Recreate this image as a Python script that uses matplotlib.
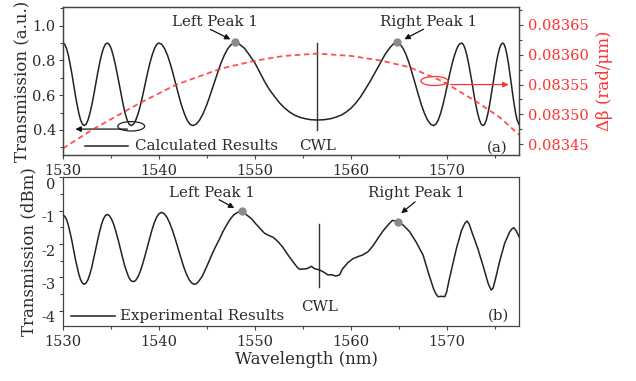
import matplotlib

matplotlib.use("Agg")
import matplotlib.pyplot as plt  # noqa: E402
from matplotlib.patches import Ellipse  # noqa: E402
from matplotlib.ticker import MultipleLocator, FormatStrFormatter  # noqa: E402
from matplotlib.transforms import ScaledTranslation  # noqa: E402

# --- (a) calculated transmission ---
calc_wl = [1530.0, 1530.18, 1530.37, 1530.55, 1530.73, 1530.92, 1531.1, 1531.28, 1531.47, 1531.65, 1531.83, 1532.02, 1532.2,
           1532.4, 1532.6, 1532.8, 1533.0, 1533.2, 1533.4, 1533.6, 1533.8, 1534.0, 1534.2, 1534.4, 1534.6,
           1534.81, 1535.02, 1535.22, 1535.43, 1535.64, 1535.85, 1536.06, 1536.27, 1536.47, 1536.68, 1536.89, 1537.1,
           1537.34, 1537.58, 1537.83, 1538.07, 1538.31, 1538.55, 1538.79, 1539.03, 1539.28, 1539.52, 1539.76, 1540.0,
           1540.29, 1540.58, 1540.88, 1541.17, 1541.46, 1541.75, 1542.04, 1542.33, 1542.63, 1542.92, 1543.21, 1543.5,
           1543.87, 1544.23, 1544.6, 1544.97, 1545.33, 1545.7, 1546.07, 1546.43, 1546.8, 1547.17, 1547.53, 1547.9,
           1548.3, 1548.9, 1549.4, 1550.0, 1550.5, 1551.0, 1551.5, 1552.05, 1552.6, 1553.1, 1553.6, 1554.1,
           1554.6, 1555.2, 1555.8, 1556.5,
           1557.2, 1557.9, 1558.45, 1559.0, 1559.5, 1560.0, 1560.5, 1561.0, 1561.5, 1562.05, 1562.6, 1563.1,
           1563.55, 1564.0, 1564.4, 1564.8,
           1565.12, 1565.43, 1565.75, 1566.07, 1566.38, 1566.7, 1567.02, 1567.33, 1567.65, 1567.97, 1568.28, 1568.6,
           1568.84, 1569.08, 1569.33, 1569.57, 1569.81, 1570.05, 1570.29, 1570.53, 1570.78, 1571.02, 1571.26, 1571.5,
           1571.69, 1571.88, 1572.06, 1572.25, 1572.44, 1572.63, 1572.81, 1573.0, 1573.19, 1573.38, 1573.56, 1573.75,
           1573.92, 1574.09, 1574.26, 1574.43, 1574.6, 1574.78, 1574.95, 1575.12, 1575.29, 1575.46, 1575.63, 1575.8,
           1575.95, 1576.1, 1576.25, 1576.4, 1576.55, 1576.7, 1576.85, 1577.0, 1577.15, 1577.3, 1577.5]
calc_T = [0.900, 0.892, 0.868, 0.830, 0.781, 0.724, 0.663, 0.601, 0.544, 0.495, 0.457, 0.433, 0.425,
          0.433, 0.457, 0.495, 0.544, 0.601, 0.663, 0.724, 0.781, 0.830, 0.868, 0.892, 0.900,
          0.892, 0.868, 0.830, 0.781, 0.724, 0.663, 0.601, 0.544, 0.495, 0.457, 0.433, 0.425,
          0.433, 0.457, 0.495, 0.544, 0.601, 0.663, 0.724, 0.781, 0.830, 0.868, 0.892, 0.900,
          0.892, 0.868, 0.830, 0.781, 0.724, 0.663, 0.601, 0.544, 0.495, 0.457, 0.433, 0.425,
          0.433, 0.457, 0.495, 0.544, 0.601, 0.663, 0.724, 0.781, 0.830, 0.868, 0.892, 0.902,
          0.896, 0.870, 0.832, 0.784, 0.731, 0.678, 0.632, 0.591, 0.553, 0.525, 0.503, 0.486,
          0.474, 0.465, 0.459, 0.457,
          0.459, 0.465, 0.474, 0.486, 0.503, 0.525, 0.555, 0.591, 0.635, 0.685, 0.740, 0.790,
          0.835, 0.870, 0.894, 0.902,
          0.892, 0.868, 0.830, 0.781, 0.724, 0.663, 0.601, 0.544, 0.495, 0.457, 0.433, 0.425,
          0.433, 0.457, 0.495, 0.544, 0.601, 0.663, 0.724, 0.781, 0.830, 0.868, 0.892, 0.900,
          0.892, 0.868, 0.830, 0.781, 0.724, 0.663, 0.601, 0.544, 0.495, 0.457, 0.433, 0.425,
          0.433, 0.457, 0.495, 0.544, 0.601, 0.663, 0.724, 0.781, 0.830, 0.868, 0.892, 0.900,
          0.892, 0.868, 0.830, 0.781, 0.724, 0.663, 0.601, 0.544, 0.495, 0.457, 0.432]

# --- (a) delta beta, right axis ---
dbeta_wl = [1530.0, 1533.0, 1538.0, 1541.8, 1546.5, 1550.0, 1553.0, 1556.5,
            1560.0, 1563.2, 1566.1, 1569.6, 1573.1, 1575.5, 1577.5]
dbeta = [0.083443, 0.083474, 0.083519, 0.083550, 0.083577, 0.083590, 0.083598,
         0.083602, 0.083598, 0.083590, 0.083579, 0.083555, 0.083521, 0.083495,
         0.083466]

# --- (b) measured transmission (dBm) ---
exp_wl = [1530.0, 1530.18, 1530.37, 1530.55, 1530.73, 1530.92, 1531.1, 1531.28, 1531.47, 1531.65, 1531.83, 1532.02, 1532.2,
          1532.4, 1532.6, 1532.8, 1533.0, 1533.2, 1533.4, 1533.6, 1533.8, 1534.0, 1534.2, 1534.4, 1534.6,
          1534.83, 1535.05, 1535.28, 1535.5, 1535.73, 1535.95, 1536.18, 1536.4, 1536.63, 1536.85, 1537.08, 1537.3,
          1537.55, 1537.79, 1538.04, 1538.28, 1538.53, 1538.78, 1539.02, 1539.27, 1539.51, 1539.76, 1540.0, 1540.25,
          1540.54, 1540.83, 1541.11, 1541.4, 1541.69, 1541.98, 1542.26, 1542.55, 1542.84, 1543.13, 1543.41, 1543.7,
          1543.9, 1544.1, 1544.5, 1544.9, 1545.35, 1545.8, 1546.3, 1546.65, 1547.0, 1547.4, 1547.8, 1548.2, 1548.65,
          1549.0, 1549.6, 1550.1, 1550.67, 1551.0, 1551.35, 1551.9, 1552.4,
          1552.9, 1553.44, 1554.0, 1554.4, 1554.66, 1555.0, 1555.4, 1555.87,
          1556.2, 1556.74, 1557.2, 1557.6, 1557.96, 1558.4, 1558.8, 1559.1,
          1559.7, 1560.2, 1560.7, 1561.2, 1561.77, 1562.3, 1562.8, 1563.3,
          1563.85, 1564.3, 1564.9, 1565.5, 1566.1, 1566.8, 1567.5, 1568.1,
          1568.6, 1568.85, 1569.06, 1569.4, 1569.76, 1569.95, 1570.2, 1570.6, 1570.98, 1571.5, 1571.85,
          1572.08, 1572.3, 1572.6, 1573.2, 1573.8, 1574.3, 1574.6, 1574.8, 1575.0, 1575.5,
          1576.0, 1576.5, 1576.75, 1576.95, 1577.2, 1577.5]
exp_dbm = [-1.13, -1.17, -1.27, -1.43, -1.65, -1.90, -2.17, -2.44, -2.69, -2.91, -3.07, -3.17, -3.21,
           -3.17, -3.07, -2.90, -2.69, -2.43, -2.16, -1.89, -1.64, -1.42, -1.25, -1.15, -1.11,
           -1.15, -1.25, -1.41, -1.62, -1.86, -2.12, -2.38, -2.63, -2.83, -3.00, -3.10, -3.13,
           -3.10, -2.99, -2.83, -2.61, -2.36, -2.09, -1.82, -1.57, -1.36, -1.19, -1.09, -1.05,
           -1.09, -1.20, -1.37, -1.59, -1.85, -2.13, -2.41, -2.67, -2.89, -3.07, -3.17, -3.21,
           -3.19, -3.13, -2.97, -2.72, -2.42, -2.13, -1.85, -1.63, -1.45, -1.26, -1.12, -1.05, -1.02,
           -1.10, -1.23, -1.40, -1.58, -1.68, -1.73, -1.80, -1.93,
           -2.10, -2.33, -2.55, -2.70, -2.76, -2.75, -2.74, -2.67,
           -2.74, -2.78, -2.85, -2.93, -2.92, -2.96, -2.93, -2.75,
           -2.55, -2.44, -2.38, -2.33, -2.23, -2.05, -1.83, -1.62,
           -1.43, -1.29, -1.33, -1.45, -1.63, -1.95, -2.33, -2.90,
           -3.35, -3.50, -3.58, -3.57, -3.58, -3.45, -3.10, -2.60, -2.13, -1.60, -1.38,
           -1.31, -1.40, -1.65, -2.13, -2.70, -3.20, -3.38, -3.32, -3.10, -2.50,
           -1.98, -1.65, -1.55, -1.51, -1.60, -1.78]

# marked peaks
calc_peaks_wl = [1547.9, 1564.8]
calc_peaks_T = [0.905, 0.905]
exp_peaks_wl = [1548.65, 1564.9]
exp_peaks_dbm = [-1.02, -1.33]
cwl_a = 1556.5
cwl_b = 1556.7

RED = "#ff3030"
TXT = "#2a2a2a"
SPINE = "#444444"

plt.rcParams["font.family"] = ["DejaVu Serif"]
plt.rcParams["axes.unicode_minus"] = False
plt.rcParams["font.size"] = 10.5


def style_ax(ax):
    for s in ax.spines.values():
        s.set_color(SPINE)
        s.set_linewidth(0.9)
    ax.tick_params(which="both", direction="out", colors=SPINE, labelcolor=TXT,
                   labelsize=10.5, width=0.8)
    ax.tick_params(which="major", length=3.2)
    ax.tick_params(which="minor", length=2.2)
    ax.tick_params(axis="y", pad=2)
    ax.xaxis.set_major_locator(MultipleLocator(10))
    ax.xaxis.set_minor_locator(MultipleLocator(5))
    ax.set_xlim(1530, 1577.5)


fig = plt.figure(figsize=(6.36, 3.81), dpi=100)
ax1 = fig.add_axes([0.0991, 0.5932, 0.7170, 0.3884])
ax3 = fig.add_axes([0.0991, 0.1444, 0.7170, 0.3900])
ax2 = ax1.twinx()

# ---------------- panel (a) ----------------
style_ax(ax1)
ax1.plot(calc_wl, calc_T, color="#222222", lw=1.1, zorder=3)
ax1.set_ylim(0.256, 1.107)
ax1.yaxis.set_major_locator(MultipleLocator(0.2))
ax1.yaxis.set_minor_locator(MultipleLocator(0.1))
ax1.yaxis.set_major_formatter(FormatStrFormatter("%.1f"))
ax1.set_ylabel("Transmission (a.u.)", fontsize=12, color=TXT, labelpad=1)
ax1.plot(calc_peaks_wl, calc_peaks_T, "o", color="#8a8a8a", ms=5, zorder=4)
ax1.plot([cwl_a, cwl_a], [0.40, 0.90], color="#333333", lw=1.0)
ax1.text(cwl_a, 0.305, "CWL", ha="center", va="center", fontsize=10.8, color=TXT)
ax1.text(1575.2, 0.298, "(a)", ha="center", va="center", fontsize=10.8, color=TXT)
ax1.text(1545.8, 1.021, "Left Peak 1", ha="center", va="center", fontsize=10.8, color=TXT)
ax1.annotate("", xy=(1547.7, 0.914), xytext=(1545.1, 0.985),
             arrowprops=dict(arrowstyle="-|>", color="#111111", lw=0.9, mutation_scale=8))
ax1.text(1568.1, 1.021, "Right Peak 1", ha="center", va="center", fontsize=10.8, color=TXT)
ax1.annotate("", xy=(1565.3, 0.914), xytext=(1567.8, 0.987),
             arrowprops=dict(arrowstyle="-|>", color="#111111", lw=0.9, mutation_scale=8))
ax1.plot([1532.3, 1536.8], [0.308, 0.308], color="#222222", lw=1.1)
ax1.text(1537.5, 0.308, "Calculated Results", ha="left", va="center",
         fontsize=10.8, color=TXT)
ax1.add_patch(Ellipse((1537.1, 0.421), 2.8, 0.054, fill=False, ec="#222222", lw=0.9))
ax1.annotate("", xy=(1531.0, 0.405), xytext=(1537.0, 0.405),
             arrowprops=dict(arrowstyle="-|>", color="#111111", lw=0.9, mutation_scale=8))

ax2.plot(dbeta_wl, dbeta, color=RED, lw=1.3, ls=(0, (3, 2)), alpha=0.85, zorder=2)
ax2.set_ylim(0.083432, 0.083680)
ax2.yaxis.set_major_locator(MultipleLocator(0.00005))
ax2.yaxis.set_minor_locator(MultipleLocator(0.000025))
ax2.yaxis.set_major_formatter(FormatStrFormatter("%.5f"))
for s in ax2.spines.values():
    s.set_color(SPINE)
    s.set_linewidth(0.9)
ax2.tick_params(which="both", direction="out", colors=SPINE, labelcolor=RED,
                labelsize=10.5, width=0.8)
ax2.tick_params(which="major", length=3.2)
ax2.tick_params(which="minor", length=2.2)
ax2.set_ylabel("\u0394\u03b2 (rad/\u03bcm)", fontsize=12, color=RED, labelpad=5)
ax2.add_patch(Ellipse((1568.7, 0.083556), 2.84, 0.0000151, fill=False, ec=RED, lw=0.9))
ax2.annotate("", xy=(1576.7, 0.08355), xytext=(1570.1, 0.08355),
             arrowprops=dict(arrowstyle="-|>", color=RED, lw=0.9, mutation_scale=8))

# ---------------- panel (b) ----------------
style_ax(ax3)
ax3.plot(exp_wl, exp_dbm, color="#222222", lw=1.1, zorder=3)
ax3.set_ylim(-4.46, 0)
ax3.yaxis.set_major_locator(MultipleLocator(1))
ax3.yaxis.set_minor_locator(MultipleLocator(0.5))
ax3.yaxis.set_major_formatter(FormatStrFormatter("%d"))
ax3.set_ylabel("Transmission (dBm)", fontsize=12, color=TXT, labelpad=3)
ax3.set_xlabel("Wavelength (nm)", fontsize=12, color=TXT)
ax3.xaxis.set_label_coords(0.535, -0.168)
ax3.plot(exp_peaks_wl, exp_peaks_dbm, "o", color="#8a8a8a", ms=5, zorder=4)
ax3.plot([cwl_b, cwl_b], [-1.41, -3.28], color="#333333", lw=1.0)
ax3.text(cwl_b, -3.88, "CWL", ha="center", va="center", fontsize=10.8, color=TXT)
ax3.text(1575.35, -4.15, "(b)", ha="center", va="center", fontsize=10.8, color=TXT)
ax3.text(1545.5, -0.46, "Left Peak 1", ha="center", va="center", fontsize=10.8, color=TXT)
ax3.annotate("", xy=(1548.1, -0.96), xytext=(1546.0, -0.63),
             arrowprops=dict(arrowstyle="-|>", color="#111111", lw=0.9, mutation_scale=8))
ax3.text(1566.8, -0.48, "Right Peak 1", ha="center", va="center", fontsize=10.8, color=TXT)
ax3.annotate("", xy=(1565.0, -1.13), xytext=(1566.9, -0.68),
             arrowprops=dict(arrowstyle="-|>", color="#111111", lw=0.9, mutation_scale=8))
ax3.plot([1530.8, 1535.4], [-4.15, -4.15], color="#222222", lw=1.1)
ax3.text(1535.9, -4.15, "Experimental Results", ha="left", va="center",
         fontsize=10.8, color=TXT)

# the dBm tick labels sit a little below their ticks, the "0" the most
for tick in ax3.yaxis.get_major_ticks():
    shift = -4.5 if abs(tick.get_loc()) < 1e-9 else -2.0
    tick.label1.set_transform(tick.label1.get_transform()
                              + ScaledTranslation(0, shift / 72, fig.dpi_scale_trans))

fig.savefig("out.png", dpi=100)
